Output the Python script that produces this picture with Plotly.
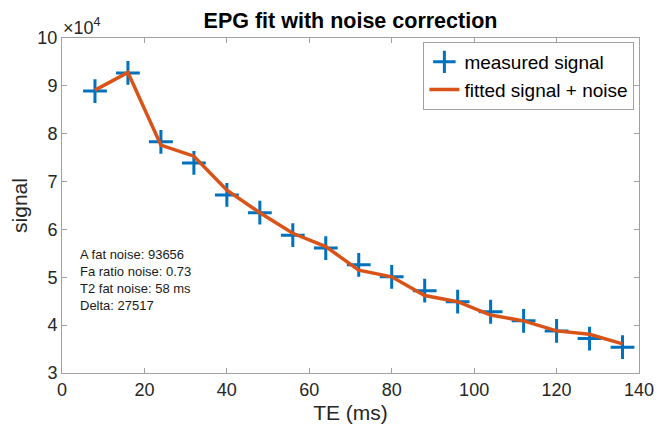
import plotly.graph_objects as go

te = [8, 16, 24, 32, 40, 48, 56, 64, 72, 80, 88, 96, 104, 112, 120, 128, 136]
measured = [88900, 92700, 78300, 73900, 67200, 63500, 58800, 56100, 52600,
            50100, 47200, 44900, 42800, 40900, 38800, 37200, 35400]
fitted = [89100, 92800, 77600, 75300, 68200, 63500, 59200, 56400, 51500,
          50100, 46200, 44900, 42100, 40900, 38800, 38100, 36100]
ytick_vals = [30000, 40000, 50000, 60000, 70000, 80000, 90000, 100000]
ytick_text = ["3", "4", "5", "6", "7", "8", "9", "10"]
info_lines = ["A fat noise: 93656", "Fa ratio noise: 0.73",
              "T2 fat noise: 58 ms", "Delta: 27517"]

FONT = "Liberation Sans, Arial, sans-serif"
TXT = "#262626"
AX = "#a0a0a0"

fig = go.Figure()
fig.add_trace(go.Scatter(
    x=te, y=measured, mode="markers", name="measured signal",
    marker=dict(symbol="cross-thin", size=17, color="#0072BD",
                line=dict(color="#0072BD", width=3)),
))
fig.add_trace(go.Scatter(
    x=te, y=fitted, mode="lines", name="fitted signal + noise",
    line=dict(color="#D95319", width=3.5),
))

axis_common = dict(
    showline=True, linecolor=AX, linewidth=1, mirror="ticks",
    ticks="inside", ticklen=5, tickcolor=AX, showgrid=False, zeroline=False,
    tickfont=dict(family=FONT, size=18, color=TXT),
)
fig.update_xaxes(range=[0, 140], dtick=20, tick0=0,
                 title=dict(text="TE (ms)", font=dict(family=FONT, size=21, color=TXT), standoff=6),
                 **axis_common)
fig.update_yaxes(range=[30000, 100000], tickvals=ytick_vals, ticktext=ytick_text,
                 title=dict(text="signal", font=dict(family=FONT, size=21, color=TXT), standoff=4),
                 **axis_common)

fig.add_annotation(x=0, y=1, xref="paper", yref="paper", xanchor="left", yanchor="bottom",
                   text="×10<sup>4</sup>", showarrow=False, xshift=-1, yshift=-2,
                   font=dict(family=FONT, size=18, color=TXT))
fig.add_annotation(x=4, y=56700, xref="x", yref="y", xanchor="left", yanchor="top",
                   text="<br>".join(info_lines), showarrow=False, align="left",
                   font=dict(family=FONT, size=13, color="#1a1a1a"))

fig.update_layout(
    width=666, height=432,
    margin=dict(l=62, r=18, t=38, b=59),
    paper_bgcolor="white", plot_bgcolor="white",
    title=dict(text="<b>EPG fit with noise correction</b>", x=0.5, xanchor="center",
               xref="paper", y=0.953, yanchor="middle",
               font=dict(family=FONT, size=21.5, color="black")),
    legend=dict(x=0.992, y=0.988, xanchor="right", yanchor="top",
                bgcolor="white", bordercolor=AX, borderwidth=1,
                font=dict(family=FONT, size=19, color="black"),
                itemwidth=30, tracegroupgap=0),
    showlegend=True,
)

fig.write_html("out.html")
